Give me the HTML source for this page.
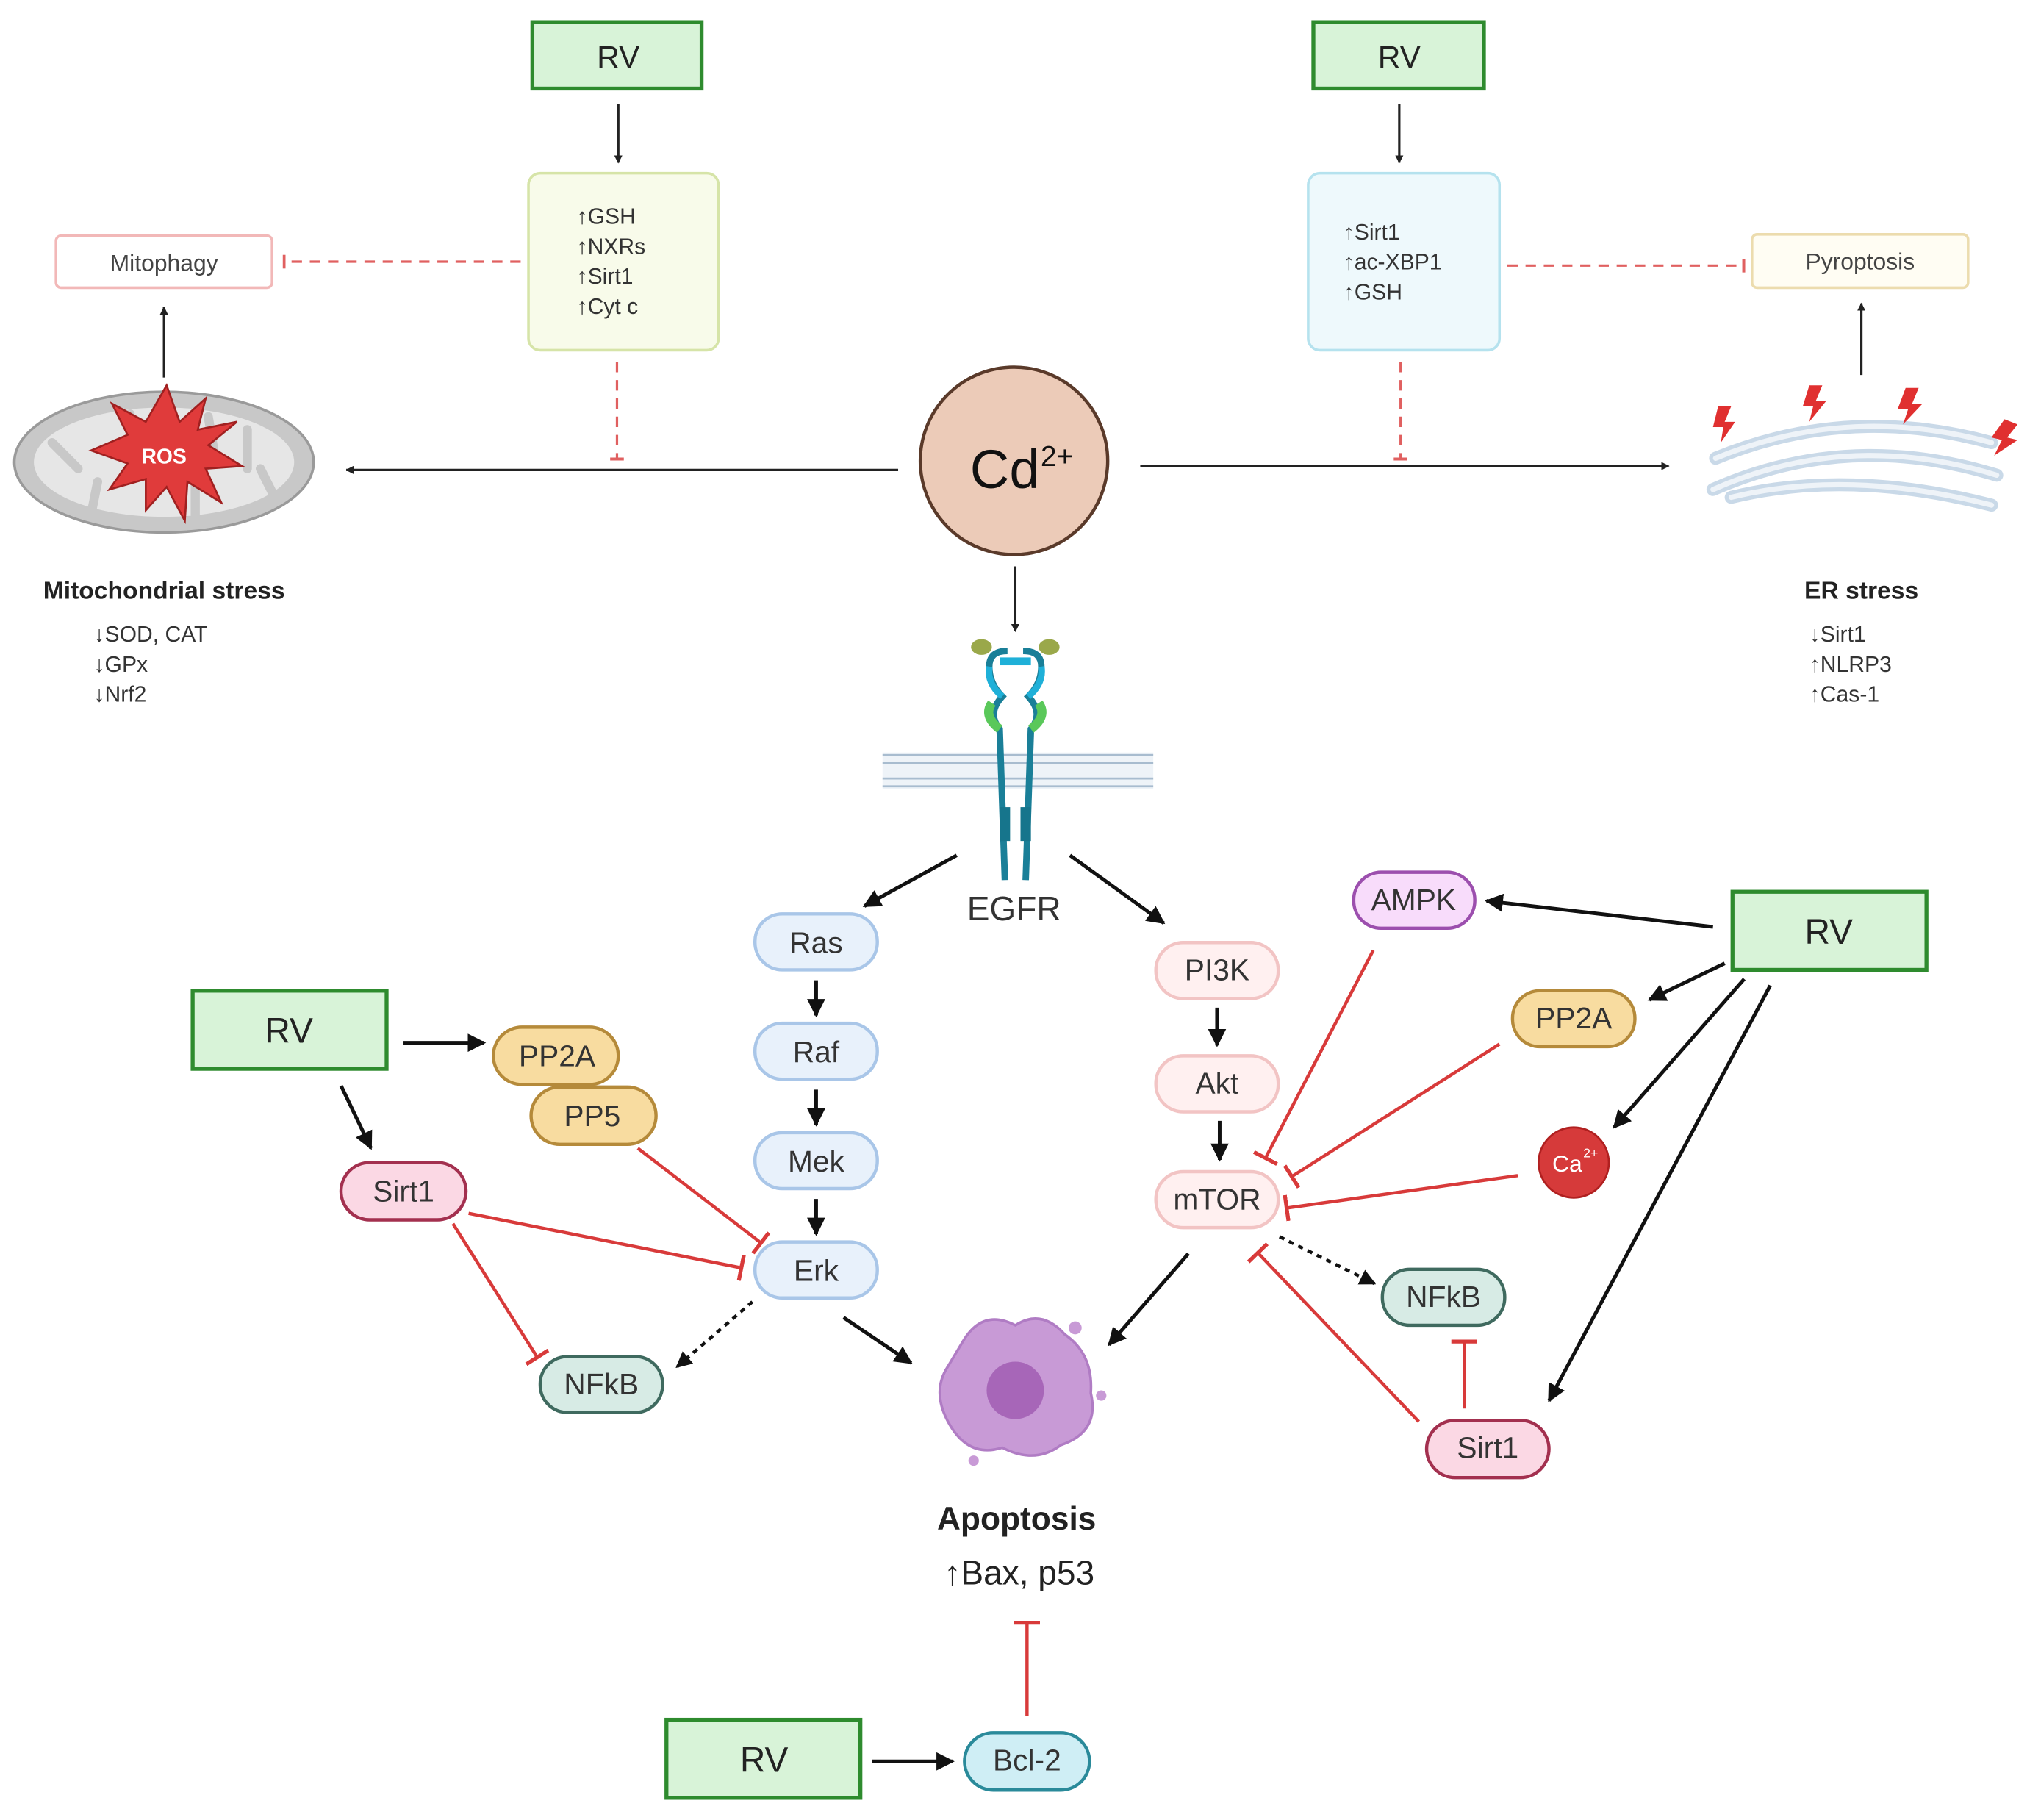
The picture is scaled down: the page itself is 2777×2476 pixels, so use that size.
<!DOCTYPE html>
<html><head><meta charset="utf-8"><style>
html,body{margin:0;padding:0;background:#fff}
svg{display:block}
text{font-family:"Liberation Sans",sans-serif}
</style></head><body>
<svg width="2777" height="2476" viewBox="0 0 1568 1398" xmlns="http://www.w3.org/2000/svg">
<defs>
<marker id="a" viewBox="0 0 10 10" refX="9" refY="5" markerWidth="5" markerHeight="5" orient="auto"><path d="M0,0L10,5L0,10z" fill="#111"/></marker>
<marker id="at" viewBox="0 0 10 10" refX="9" refY="5" markerWidth="3.5" markerHeight="3.5" orient="auto"><path d="M0,0L10,5L0,10z" fill="#222"/></marker>
<marker id="b" viewBox="0 0 4 20" refX="2" refY="10" markerWidth="4" markerHeight="20" markerUnits="userSpaceOnUse" orient="auto"><rect x="0" y="0" width="3" height="20" fill="#d83a3a"/></marker>
<marker id="bs" viewBox="0 0 4 14" refX="2" refY="7" markerWidth="3" markerHeight="12" markerUnits="userSpaceOnUse" orient="auto"><rect x="0" y="0" width="3" height="14" fill="#e06060"/></marker>
</defs>
<rect width="1568" height="1398" fill="#fff"/>

<!-- top RV boxes -->
<rect x="409" y="17" width="130" height="51" fill="#d8f3d8" stroke="#2e8b2e" stroke-width="3"/>
<text x="475" y="52" font-size="24" text-anchor="middle" fill="#222">RV</text>
<rect x="1009" y="17" width="131" height="51" fill="#d8f3d8" stroke="#2e8b2e" stroke-width="3"/>
<text x="1075" y="52" font-size="24" text-anchor="middle" fill="#222">RV</text>
<g stroke="#222" stroke-width="1.8" fill="none" marker-end="url(#at)">
<line x1="475" y1="80" x2="475" y2="125"/>
<line x1="1075" y1="80" x2="1075" y2="125"/>
<line x1="126" y1="290" x2="126" y2="236"/>
<line x1="1430" y1="288" x2="1430" y2="233"/>
<line x1="690" y1="361" x2="266" y2="361"/>
<line x1="876" y1="358" x2="1282" y2="358"/>
<line x1="780" y1="435" x2="780" y2="485"/>
</g>

<rect x="406" y="133" width="146" height="136" rx="9" fill="#f8fbea" stroke="#d6e4a8" stroke-width="2"/>
<g font-size="17" fill="#333"><text x="443" y="172">↑GSH</text><text x="443" y="195">↑NXRs</text><text x="443" y="218">↑Sirt1</text><text x="443" y="241">↑Cyt c</text></g>
<rect x="1005" y="133" width="147" height="136" rx="9" fill="#eef9fc" stroke="#b5e2ee" stroke-width="2"/>
<g font-size="17" fill="#333"><text x="1032" y="184">↑Sirt1</text><text x="1032" y="207">↑ac-XBP1</text><text x="1032" y="230">↑GSH</text></g>

<rect x="43" y="181" width="166" height="40" rx="4" fill="#fff" stroke="#f2b8b8" stroke-width="2"/>
<text x="126" y="208" font-size="18" text-anchor="middle" fill="#444">Mitophagy</text>
<rect x="1346" y="180" width="166" height="41" rx="4" fill="#fffdf3" stroke="#ecdcae" stroke-width="2"/>
<text x="1429" y="207" font-size="18" text-anchor="middle" fill="#444">Pyroptosis</text>

<g stroke="#e06060" stroke-width="1.8" stroke-dasharray="8,6" fill="none" marker-end="url(#bs)">
<line x1="400" y1="201" x2="218" y2="201"/>
<line x1="1158" y1="204" x2="1340" y2="204"/>
<line x1="474" y1="278" x2="474" y2="353"/>
<line x1="1076" y1="278" x2="1076" y2="353"/>
</g>

<!-- mitochondria -->
<ellipse cx="126" cy="355" rx="115" ry="54" fill="#c8c8c8" stroke="#9a9a9a" stroke-width="2"/>
<ellipse cx="126" cy="355" rx="100" ry="42" fill="#e6e6e6"/>
<g stroke="#c8c8c8" stroke-width="7" stroke-linecap="round"><line x1="40" y1="340" x2="60" y2="360"/><line x1="70" y1="395" x2="75" y2="370"/><line x1="100" y1="318" x2="100" y2="350"/><line x1="160" y1="320" x2="165" y2="350"/><line x1="190" y1="330" x2="190" y2="360"/><line x1="210" y1="380" x2="200" y2="360"/><line x1="150" y1="395" x2="150" y2="370"/></g>
<polygon points="128,296 138,324 158,306 152,330 182,324 160,342 186,358 158,360 170,386 144,370 142,400 128,374 112,392 112,368 84,376 98,356 70,346 98,334 86,310 112,324" fill="#e03b3b" stroke="#a02020" stroke-width="1.5"/>
<text x="126" y="356" font-size="16" font-weight="bold" text-anchor="middle" fill="#fff">ROS</text>

<!-- Cd -->
<circle cx="779" cy="354" r="72" fill="#eccbb8" stroke="#5a3a2a" stroke-width="2.5"/>
<text x="772" y="375" font-size="42" text-anchor="middle" fill="#111">Cd</text><text x="812" y="358" font-size="22" text-anchor="middle" fill="#111">2+</text>

<!-- ER -->
<g fill="none" stroke="#c9d9e8" stroke-width="10" stroke-linecap="round">
<path d="M1318,352 Q1420,310 1530,340"/><path d="M1316,376 Q1420,330 1534,365"/><path d="M1330,382 Q1420,360 1530,388"/>
</g>
<g fill="none" stroke="#eef3f8" stroke-width="4" stroke-linecap="round">
<path d="M1318,352 Q1420,310 1530,340"/><path d="M1316,376 Q1420,330 1534,365"/><path d="M1330,382 Q1420,360 1530,388"/>
</g>
<g fill="#e03030">
<polygon points="1320,312 1330,312 1325,324 1333,324 1322,340 1324,328 1316,328"/>
<polygon points="1390,296 1400,296 1395,308 1403,308 1390,324 1393,312 1385,312"/>
<polygon points="1464,298 1474,298 1469,310 1477,310 1462,326 1466,314 1458,314"/>
<polygon points="1540,322 1550,326 1542,336 1550,338 1532,350 1538,338 1530,336"/>
</g>

<text x="126" y="460" font-size="19" font-weight="bold" text-anchor="middle" fill="#222">Mitochondrial stress</text>
<g font-size="17" fill="#333"><text x="72" y="493">↓SOD, CAT</text><text x="72" y="516">↓GPx</text><text x="72" y="539">↓Nrf2</text></g>
<text x="1430" y="460" font-size="19" font-weight="bold" text-anchor="middle" fill="#222">ER stress</text>
<g font-size="17" fill="#333"><text x="1390" y="493">↓Sirt1</text><text x="1390" y="516">↑NLRP3</text><text x="1390" y="539">↑Cas-1</text></g>

<!-- EGFR -->
<rect x="678" y="578" width="208" height="28" fill="#eef3f8"/>
<g stroke="#a8bccf" stroke-width="1.5"><line x1="678" y1="580" x2="886" y2="580"/><line x1="678" y1="586" x2="886" y2="586"/><line x1="678" y1="598" x2="886" y2="598"/><line x1="678" y1="604" x2="886" y2="604"/></g>
<g fill="none" stroke-width="5">
<path d="M774,500 Q760,500 760,512 Q760,525 770,535 Q758,548 768,560 L772,676" stroke="#1a7f98"/>
<path d="M786,500 Q800,500 800,512 Q800,525 790,535 Q802,548 792,560 L788,676" stroke="#1a7f98"/>
<path d="M760,512 Q758,525 770,535" stroke="#1fb0d8"/><path d="M800,512 Q802,525 790,535" stroke="#1fb0d8"/>
<path d="M762,540 Q755,550 768,560" stroke="#5ac85a" stroke-width="7"/><path d="M798,540 Q805,550 792,560" stroke="#5ac85a" stroke-width="7"/>
</g>
<ellipse cx="754" cy="497" rx="8" ry="6" fill="#9aa84a"/><ellipse cx="806" cy="497" rx="8" ry="6" fill="#9aa84a"/>
<rect x="768" y="505" width="24" height="6" fill="#1fb0d8"/>
<rect x="768" y="620" width="8" height="26" fill="#16758c"/><rect x="784" y="620" width="8" height="26" fill="#16758c"/>
<text x="779" y="707" font-size="26" text-anchor="middle" fill="#333">EGFR</text>

<!-- black arrows -->
<g stroke="#111" stroke-width="2.8" fill="none" marker-end="url(#a)">
<line x1="735" y1="657" x2="664" y2="696"/>
<line x1="822" y1="657" x2="894" y2="709"/>
<line x1="627" y1="753" x2="627" y2="780"/>
<line x1="627" y1="837" x2="627" y2="864"/>
<line x1="627" y1="921" x2="627" y2="948"/>
<line x1="935" y1="774" x2="935" y2="803"/>
<line x1="937" y1="861" x2="937" y2="891"/>
<line x1="648" y1="1012" x2="700" y2="1047"/>
<line x1="913" y1="963" x2="852" y2="1033"/>
<line x1="1316" y1="712" x2="1142" y2="692"/>
<line x1="1325" y1="740" x2="1267" y2="768"/>
<line x1="1340" y1="752" x2="1240" y2="866"/>
<line x1="1360" y1="757" x2="1190" y2="1076"/>
<line x1="310" y1="801" x2="372" y2="801"/>
<line x1="262" y1="834" x2="285" y2="882"/>
<line x1="670" y1="1353" x2="732" y2="1353"/>
</g>
<g stroke="#111" stroke-width="2.5" stroke-dasharray="4,4" fill="none" marker-end="url(#a)">
<line x1="578" y1="1000" x2="520" y2="1050"/>
<line x1="983" y1="950" x2="1056" y2="986"/>
</g>

<!-- red inhibition -->
<g stroke="#d83a3a" stroke-width="2.5" fill="none" marker-end="url(#b)">
<line x1="490" y1="882" x2="585" y2="955"/>
<line x1="360" y1="932" x2="570" y2="974"/>
<line x1="348" y1="940" x2="413" y2="1043"/>
<line x1="1055" y1="730" x2="972" y2="890"/>
<line x1="1152" y1="802" x2="992" y2="904"/>
<line x1="1166" y1="903" x2="988" y2="928"/>
<line x1="1090" y1="1092" x2="966" y2="962"/>
<line x1="1125" y1="1082" x2="1125" y2="1030"/>
<line x1="789" y1="1318" x2="789" y2="1246"/>
</g>

<!-- pills -->
<g font-size="23" text-anchor="middle" fill="#333">
<g fill="#e8f1fb" stroke="#a9c6e8" stroke-width="2.5">
<rect x="580" y="702" width="94" height="43" rx="21"/><rect x="580" y="786" width="94" height="43" rx="21"/><rect x="580" y="870" width="94" height="43" rx="21"/><rect x="580" y="954" width="94" height="43" rx="21"/></g>
<text x="627" y="732">Ras</text><text x="627" y="816">Raf</text><text x="627" y="900">Mek</text><text x="627" y="984">Erk</text>
<g fill="#fff0f0" stroke="#f2c4c4" stroke-width="2.5">
<rect x="888" y="724" width="94" height="43" rx="21"/><rect x="888" y="811" width="94" height="43" rx="21"/><rect x="888" y="900" width="94" height="43" rx="21"/></g>
<text x="935" y="753">PI3K</text><text x="935" y="840">Akt</text><text x="935" y="929">mTOR</text>
<rect x="1040" y="670" width="93" height="43" rx="21" fill="#f8dcfb" stroke="#9c4fae" stroke-width="2.5"/><text x="1086" y="699">AMPK</text>
<rect x="1162" y="761" width="94" height="43" rx="21" fill="#f8dca0" stroke="#b58a3a" stroke-width="2.5"/><text x="1209" y="790">PP2A</text>
<rect x="379" y="789" width="96" height="44" rx="22" fill="#f8dca0" stroke="#b58a3a" stroke-width="2.5"/><text x="428" y="819">PP2A</text>
<rect x="408" y="835" width="96" height="44" rx="22" fill="#f8dca0" stroke="#b58a3a" stroke-width="2.5"/><text x="455" y="865">PP5</text>
<rect x="262" y="893" width="96" height="44" rx="22" fill="#fbd8e4" stroke="#a3304f" stroke-width="2.5"/><text x="310" y="923">Sirt1</text>
<rect x="1096" y="1091" width="94" height="44" rx="22" fill="#fbd8e4" stroke="#a3304f" stroke-width="2.5"/><text x="1143" y="1120">Sirt1</text>
<rect x="415" y="1042" width="94" height="43" rx="21" fill="#d7ebe5" stroke="#3f6a5f" stroke-width="2.5"/><text x="462" y="1071">NFkB</text>
<rect x="1062" y="975" width="94" height="43" rx="21" fill="#d7ebe5" stroke="#3f6a5f" stroke-width="2.5"/><text x="1109" y="1004">NFkB</text>
<rect x="741" y="1331" width="96" height="44" rx="22" fill="#cfeef5" stroke="#2a8a9a" stroke-width="2.5"/><text x="789" y="1360">Bcl-2</text>
</g>
<circle cx="1209" cy="893" r="27" fill="#d63a3a" stroke="#b02020" stroke-width="1.5"/>
<text x="1204" y="900" font-size="18" text-anchor="middle" fill="#fff">Ca</text><text x="1222" y="889" font-size="10" text-anchor="middle" fill="#fff">2+</text>

<!-- RV boxes lower -->
<g fill="#d8f3d8" stroke="#2e8b2e" stroke-width="3">
<rect x="1331" y="685" width="149" height="60"/><rect x="148" y="761" width="149" height="60"/><rect x="512" y="1321" width="149" height="60"/></g>
<g font-size="27" text-anchor="middle" fill="#222"><text x="1405" y="725">RV</text><text x="222" y="801">RV</text><text x="587" y="1361">RV</text></g>

<!-- apoptotic cell -->
<path d="M740,1030 Q755,1005 780,1018 Q800,1005 818,1025 Q840,1040 838,1070 Q845,1100 815,1110 Q795,1125 770,1112 Q745,1120 730,1095 Q715,1070 728,1050 Z" fill="#c89ad6" stroke="#b07cc4" stroke-width="2"/>
<circle cx="780" cy="1068" r="22" fill="#a766b8"/>
<circle cx="826" cy="1020" r="5" fill="#c89ad6"/><circle cx="748" cy="1122" r="4" fill="#c89ad6"/><circle cx="846" cy="1072" r="4" fill="#c89ad6"/>
<text x="781" y="1175" font-size="25" font-weight="bold" text-anchor="middle" fill="#222">Apoptosis</text>
<text x="783" y="1217" font-size="26" text-anchor="middle" fill="#222">↑Bax, p53</text>
</svg>
</body></html>
